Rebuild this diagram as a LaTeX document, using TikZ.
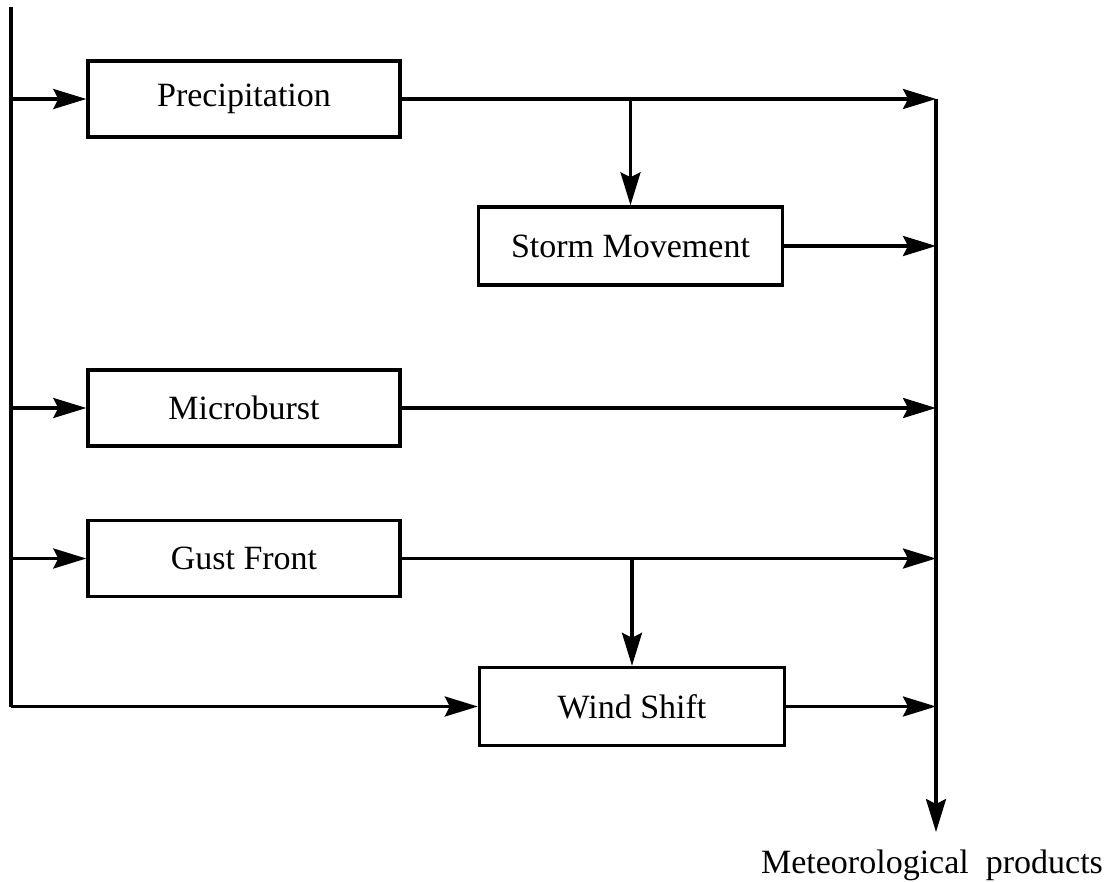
\documentclass[tikz,border=0pt]{standalone}
\usepackage{fontspec}
\setmainfont{Liberation Serif}
\usetikzlibrary{arrows.meta}
\begin{document}
\begin{tikzpicture}[x=1pt,y=-1pt,
  box/.style={draw, line width=3.4pt, minimum width=310pt, minimum height=76pt, inner sep=0pt, font=\fontsize{34}{40}\selectfont},
  ln/.style={line width=3.2pt},
  arr/.style={line width=3.2pt, -{Stealth[length=33pt,width=20pt,inset=5pt]}}]
\useasboundingbox (0,0) rectangle (1114,882);
% boxes
\node[box, minimum width=312pt] (p) at (244,99) {Precipitation};
\node[box, minimum width=304pt, minimum height=78pt] (s) at (630.5,246) {Storm Movement};
\node[box, minimum width=312pt] (m) at (244,408) {Microburst};
\node[box, minimum width=312pt] (g) at (244,558.5) {Gust Front};
\node[box, minimum width=305pt, minimum height=78pt] (w) at (632,706.5) {Wind Shift};
% left bus
\coordinate (L0) at (11,7);
\coordinate (L1) at (11,99);
\coordinate (L2) at (11,408);
\coordinate (L3) at (11,558.5);
\coordinate (L4) at (11,706.5);
% right bus
\coordinate (R1) at (936,99);
\coordinate (R2) at (936,246);
\coordinate (R3) at (936,408);
\coordinate (R4) at (936,558.5);
\coordinate (R5) at (936,706.5);
\coordinate (Rend) at (936,832);
% branch points
\coordinate (B1) at (630.5,99);
\coordinate (B2) at (632,558.5);
\draw[ln] (L0) -- (L4);
\draw[arr] (L1) -- (p.west);
\draw[arr] (L2) -- (m.west);
\draw[arr] (L3) -- (g.west);
\draw[arr] (L4) -- (w.west);
\draw[arr] (p.east) -- (R1);
\draw[arr] (B1) -- (s.north);
\draw[arr] (s.east) -- (R2);
\draw[arr] (m.east) -- (R3);
\draw[arr] (g.east) -- (R4);
\draw[arr] (B2) -- (w.north);
\draw[arr] (w.east) -- (R5);
\draw[arr] (R1) -- (Rend);
\node[anchor=base, font=\fontsize{34}{40}\selectfont, inner sep=0pt] (out) at (932,873) {Meteorological\hspace{0.25em} products};
\end{tikzpicture}
\end{document}
